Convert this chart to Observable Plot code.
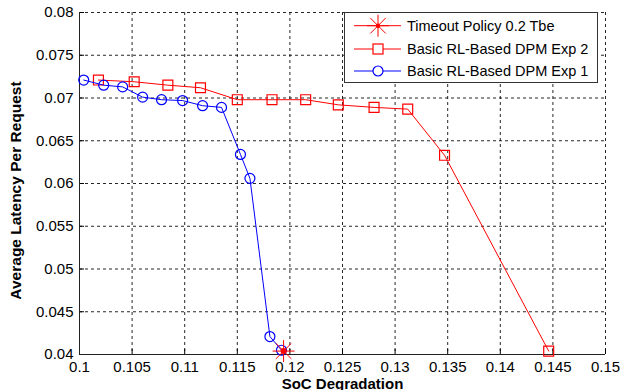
<!DOCTYPE html>
<html><head><meta charset="utf-8">
<script src="https://cdn.jsdelivr.net/npm/d3@7"></script>
<script src="https://cdn.jsdelivr.net/npm/@observablehq/plot@0.6"></script>
<style>body{margin:0;background:#fff;overflow:hidden} #chart svg{overflow:visible}</style>
</head><body><div id="chart"></div>
<script>
// Data
const exp1X = [0.1004, 0.1023, 0.1041, 0.1060, 0.1078, 0.1098, 0.1117, 0.1135, 0.1153, 0.1162, 0.1181, 0.1192];
const exp1Y = [0.0721, 0.0715, 0.0713, 0.0701, 0.0698, 0.0697, 0.0691, 0.0689, 0.0634, 0.0606, 0.0421, 0.0405];
const exp2X = [0.1018, 0.1052, 0.1084, 0.1115, 0.1150, 0.1183, 0.1215, 0.1246, 0.1280, 0.1312, 0.1347, 0.1446];
const exp2Y = [0.0721, 0.0719, 0.0715, 0.0712, 0.0698, 0.0698, 0.0698, 0.0692, 0.0689, 0.0687, 0.0633, 0.0404];
const timeoutX = [0.1194];
const timeoutY = [0.0404];
const xTicks = [0.1, 0.105, 0.11, 0.115, 0.12, 0.125, 0.13, 0.135, 0.14, 0.145, 0.15];
const yTicks = [0.04, 0.045, 0.05, 0.055, 0.06, 0.065, 0.07, 0.075, 0.08];
const seriesNames = ["Timeout Policy 0.2 Tbe", "Basic RL-Based DPM Exp 2", "Basic RL-Based DPM Exp 1"];
const xLabel = "SoC Degradation";
const yLabel = "Average Latency Per Request";

const RED = "#ff0000", BLUE = "#0000ff";
const FONT = "Liberation Sans, Arial, sans-serif";

const exp1 = exp1X.map((x, i) => ({x, y: exp1Y[i]}));
const exp2 = exp2X.map((x, i) => ({x, y: exp2Y[i]}));
const timeout = timeoutX.map((x, i) => ({x, y: timeoutY[i]}));

const star8 = {
  draw(ctx, size) {
    const r = Math.sqrt(size / Math.PI);
    for (let k = 0; k < 4; k++) {
      const a = k * Math.PI / 4;
      ctx.moveTo(-r * Math.cos(a), -r * Math.sin(a));
      ctx.lineTo(r * Math.cos(a), r * Math.sin(a));
    }
  }
};

const xDom = [xTicks[0], xTicks[xTicks.length - 1]];
const yDom = [yTicks[0], yTicks[yTicks.length - 1]];

const chart = Plot.plot({
  width: 620, height: 390,
  marginLeft: 79, marginRight: 15, marginTop: 12, marginBottom: 36,
  style: {fontFamily: FONT, fontSize: "15px", color: "#000", background: "#fff"},
  x: {type: "linear", domain: xDom, ticks: xTicks},
  y: {type: "linear", domain: yDom, ticks: yTicks},
  marks: [
    Plot.gridX(xTicks, {stroke: "#000", strokeOpacity: 0.85, strokeDasharray: "3,3"}),
    Plot.gridY(yTicks, {stroke: "#000", strokeOpacity: 0.85, strokeDasharray: "3,3"}),
    Plot.axisX({ticks: xTicks, tickSize: 0, tickPadding: 7, tickFormat: d => String(d), fontSize: 15, label: null}),
    Plot.axisY({ticks: yTicks, tickSize: 0, tickPadding: 6, tickFormat: d => String(d), fontSize: 15, label: null}),
    Plot.axisX({ticks: xTicks, tickSize: -5, tickFormat: () => "", label: null, stroke: "#000"}),
    Plot.axisY({ticks: yTicks, tickSize: -5, tickFormat: () => "", label: null, stroke: "#000"}),
    Plot.ruleX([xDom[0]], {stroke: "#222", strokeWidth: 1}),
    Plot.ruleY([yDom[0]], {stroke: "#222", strokeWidth: 1}),
    Plot.line(exp2, {x: "x", y: "y", stroke: RED, strokeWidth: 1}),
    Plot.dot(exp2, {x: "x", y: "y", symbol: "square", r: 5.6, stroke: RED, fill: "none", strokeWidth: 1.2}),
    Plot.line(exp1, {x: "x", y: "y", stroke: BLUE, strokeWidth: 1}),
    Plot.dot(exp1, {x: "x", y: "y", symbol: "circle", r: 5, stroke: BLUE, fill: "none", strokeWidth: 1.2}),
    Plot.dot(timeout, {x: "x", y: "y", symbol: star8, r: 11, stroke: RED, fill: "none", strokeWidth: 1}),
    Plot.dot(timeout, {x: "x", y: "y", r: 3, fill: RED, stroke: "none"}),
    Plot.text([yLabel], {frameAnchor: "left", textAnchor: "middle", rotate: -90, dx: -63, dy: 7, fontWeight: "bold", fontSize: 15.5, fill: "#000"}),
    Plot.text([xLabel], {frameAnchor: "bottom", lineAnchor: "bottom", dy: 34, fontWeight: "bold", fontSize: 15, fill: "#000"})
  ]
});
document.getElementById("chart").appendChild(chart);

// Legend (MATLAB-style box, upper right)
const svg = d3.select(chart);
const lg = svg.append("g").attr("font-family", FONT).attr("font-size", 14.5).attr("text-anchor", "start");
lg.append("rect").attr("x", 344.5).attr("y", 12.5).attr("width", 253).attr("height", 70)
  .attr("fill", "#fff").attr("stroke", "#333").attr("stroke-width", 1);
const rows = [
  {name: seriesNames[0], color: RED, sym: "star"},
  {name: seriesNames[1], color: RED, sym: "square"},
  {name: seriesNames[2], color: BLUE, sym: "circle"}
];
const rowY = [25.7, 49, 71];
rows.forEach((r, i) => {
  const y = rowY[i];
  const g = lg.append("g");
  g.append("line").attr("x1", 354).attr("x2", 401).attr("y1", y).attr("y2", y).attr("stroke", r.color).attr("stroke-width", 1);
  if (r.sym === "star") {
    const R = 11;
    for (let k = 0; k < 4; k++) {
      const a = k * Math.PI / 4;
      g.append("line").attr("x1", 378 - R * Math.cos(a)).attr("y1", y - R * Math.sin(a))
        .attr("x2", 378 + R * Math.cos(a)).attr("y2", y + R * Math.sin(a)).attr("stroke", r.color).attr("stroke-width", 1);
    }
    g.append("circle").attr("cx", 378).attr("cy", y).attr("r", 2.2).attr("fill", r.color);
  } else if (r.sym === "square") {
    g.append("rect").attr("x", 373).attr("y", y - 5).attr("width", 10).attr("height", 10).attr("fill", "#fff").attr("stroke", r.color).attr("stroke-width", 1.2);
  } else {
    g.append("circle").attr("cx", 378).attr("cy", y).attr("r", 5).attr("fill", "#fff").attr("stroke", r.color).attr("stroke-width", 1.2);
  }
  g.append("text").attr("x", 407).attr("y", y).attr("dy", "0.35em").attr("text-anchor", "start").attr("fill", "#000").text(r.name);
});
</script>
</body></html>
